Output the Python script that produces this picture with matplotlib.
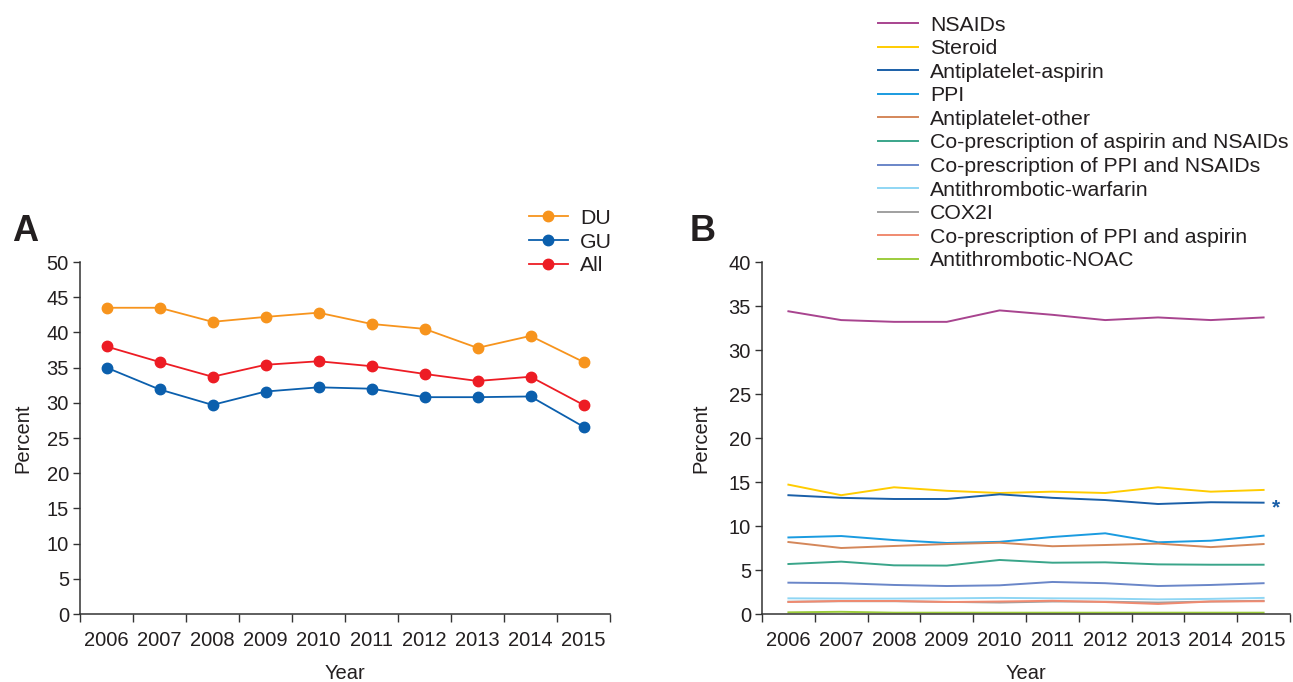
import matplotlib.pyplot as plt
import numpy as np

plt.rcParams['font.family'] = ['Liberation Sans', 'DejaVu Sans']
plt.rcParams['font.size'] = 14.5
TXT = '#231f20'

years = ['2006', '2007', '2008', '2009', '2010', '2011', '2012', '2013', '2014', '2015']

# Panel A: ulcer type
du = [43.5, 43.5, 41.5, 42.2, 42.8, 41.2, 40.5, 37.8, 39.5, 35.8]
gu = [35.0, 31.9, 29.7, 31.6, 32.2, 32.0, 30.8, 30.8, 30.9, 26.6]
all_ = [38.0, 35.8, 33.7, 35.4, 35.9, 35.2, 34.1, 33.1, 33.7, 29.7]

# Panel B: medication
nsaids = [34.4, 33.4, 33.2, 33.2, 34.5, 34.0, 33.4, 33.7, 33.4, 33.7]
steroid = [14.7, 13.5, 14.4, 14.0, 13.75, 13.9, 13.75, 14.4, 13.9, 14.1]
aspirin = [13.5, 13.2, 13.07, 13.07, 13.6, 13.2, 12.95, 12.5, 12.7, 12.65]
ppi = [8.7, 8.86, 8.4, 8.07, 8.2, 8.75, 9.17, 8.15, 8.33, 8.9]
ap_other = [8.18, 7.5, 7.73, 7.95, 8.1, 7.7, 7.84, 8.0, 7.6, 7.95]
asp_nsaid = [5.68, 5.95, 5.53, 5.5, 6.14, 5.83, 5.87, 5.64, 5.6, 5.6]
ppi_nsaid = [3.56, 3.5, 3.3, 3.18, 3.26, 3.64, 3.5, 3.18, 3.3, 3.5]
warfarin = [1.78, 1.75, 1.75, 1.78, 1.83, 1.78, 1.75, 1.66, 1.72, 1.83]
cox2i = [1.4, 1.45, 1.45, 1.38, 1.3, 1.42, 1.4, 1.3, 1.42, 1.5]
ppi_asp = [1.36, 1.48, 1.48, 1.36, 1.42, 1.5, 1.36, 1.14, 1.42, 1.45]
noac = [0.19, 0.25, 0.15, 0.15, 0.15, 0.15, 0.15, 0.15, 0.15, 0.15]

series_b = [
    ('NSAIDs', nsaids, '#a8448f'),
    ('Steroid', steroid, '#ffcc00'),
    ('Antiplatelet-aspirin', aspirin, '#1a5fa8'),
    ('PPI', ppi, '#1a9be0'),
    ('Antiplatelet-other', ap_other, '#d4875a'),
    ('Co-prescription of aspirin and NSAIDs', asp_nsaid, '#3aa58a'),
    ('Co-prescription of PPI and NSAIDs', ppi_nsaid, '#6a86c8'),
    ('Antithrombotic-warfarin', warfarin, '#8fd6f4'),
    ('COX2I', cox2i, '#a0a0a0'),
    ('Co-prescription of PPI and aspirin', ppi_asp, '#f08a70'),
    ('Antithrombotic-NOAC', noac, '#9ccc3c'),
]

fig = plt.figure(figsize=(12.93, 6.82), dpi=100)
axA = fig.add_axes([80/1293, 68/682, 530/1293, 352/682])
axB = fig.add_axes([762/1293, 68/682, 528/1293, 352/682])

x = np.arange(len(years))


def style_axis(ax, ymax, step, ylabelpad):
    ax.set_xlim(-0.5, len(years) - 0.5)
    ax.set_ylim(0, ymax)
    ax.set_yticks(np.arange(0, ymax + 1, step))
    ax.set_xticks(np.arange(-0.5, len(years), 1.0))
    ax.set_xticklabels([])
    ax.set_xticks(x, minor=True)
    ax.set_xticklabels(years, minor=True)
    ax.tick_params(axis='x', which='minor', length=0, pad=12, colors=TXT)
    ax.tick_params(axis='x', which='major', length=6, width=1, color='#333333')
    ax.tick_params(axis='y', length=5, width=1, color='#333333', labelcolor=TXT, pad=3)
    for s in ['top', 'right']:
        ax.spines[s].set_visible(False)
    for s in ['left', 'bottom']:
        ax.spines[s].set_color('#333333')
        ax.spines[s].set_linewidth(1.1)
    ax.set_xlabel('Year', color=TXT, labelpad=10)
    ax.set_ylabel('Percent', color=TXT, labelpad=ylabelpad)
    ax.grid(False)


# Panel A
for vals, lab, col in [(du, 'DU', '#f7941d'), (gu, 'GU', '#0b5fad'), (all_, 'All', '#ed1c24')]:
    axA.plot(x, vals, '-o', color=col, lw=1.3, markersize=7.5, label=lab, clip_on=False)
style_axis(axA, 50, 5, 10)
axA.legend(loc='upper left', bbox_to_anchor=(440/530, 1.175), frameon=False,
           handlelength=1.88, handletextpad=0.56, labelspacing=0.22, borderaxespad=0,
           labelcolor=TXT, fontsize=15.3)

# Panel B
for lab, vals, col in series_b:
    axB.plot(x, vals, '-', color=col, lw=1.4, label=lab)
style_axis(axB, 40, 5, 13)
# significance mark next to the aspirin line
axB.annotate('*', xy=(x[-1], aspirin[-1]), xytext=(6, -4), textcoords='offset points',
             color='#1a5fa8', fontsize=15, fontweight='bold', va='center', ha='left')
axB.legend(loc='upper left', bbox_to_anchor=(108/528, 1.724), frameon=False,
           handlelength=1.88, handletextpad=0.56, labelspacing=0.215, borderaxespad=0,
           labelcolor=TXT, fontsize=15.3)

fig.text(12/1293, 1 - 232/682, 'A', fontsize=26, fontweight='bold', va='center', ha='left', color=TXT)
fig.text(690/1293, 1 - 232/682, 'B', fontsize=26, fontweight='bold', va='center', ha='left', color=TXT)

fig.savefig('out.png', dpi=100, facecolor='white')
